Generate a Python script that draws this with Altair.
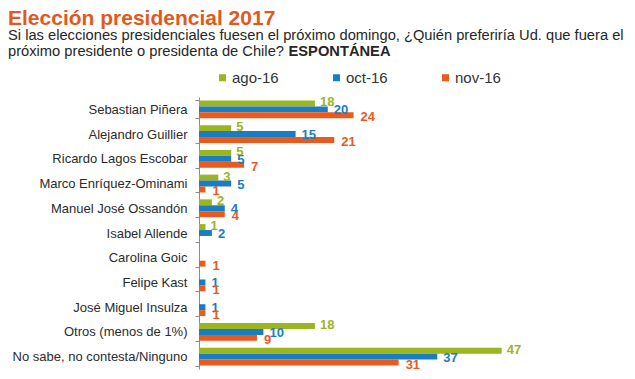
import altair as alt
import pandas as pd

categories = [
    "Sebastian Piñera",
    "Alejandro Guillier",
    "Ricardo Lagos Escobar",
    "Marco Enríquez-Ominami",
    "Manuel José Ossandón",
    "Isabel Allende",
    "Carolina Goic",
    "Felipe Kast",
    "José Miguel Insulza",
    "Otros (menos de 1%)",
    "No sabe, no contesta/Ninguno",
]
series = ["ago-16", "oct-16", "nov-16"]
ago16 = [18, 5, 5, 3, 2, 1, None, None, None, 18, 47]
oct16 = [20, 15, 5, 5, 4, 2, None, 1, 1, 10, 37]
nov16 = [24, 21, 7, 1, 4, None, 1, 1, 1, 9, 31]
colors = ["#9BB51E", "#197DC3", "#E85A1E"]

title_text = "Elección presidencial 2017"
sub1 = "Si las elecciones presidenciales fuesen el próximo domingo, ¿Quién preferiría Ud. que fuera el"
sub2 = "próximo presidente o presidenta de Chile?"
sub2_bold = "ESPONTÁNEA"

FONT = "Liberation Sans"

rows = []
for i, c in enumerate(categories):
    for s, vals in zip(series, [ago16, oct16, nov16]):
        v = vals[i]
        if v is not None:
            rows.append({"cat": c, "series": s, "value": v})
df = pd.DataFrame(rows)

y_enc = alt.Y(
    "cat:N",
    sort=categories,
    scale=alt.Scale(paddingInner=0.28, paddingOuter=0.14),
    axis=alt.Axis(
        title=None,
        labelFont=FONT,
        labelFontSize=13,
        labelColor="#2b2b2b",
        labelPadding=8,
        labelLimit=400,
        tickBand="extent",
        tickSize=4,
        tickColor="#8c8c8c",
        domainColor="#8c8c8c",
        grid=False,
    ),
)
yoff_enc = alt.YOffset("series:N", sort=series, scale=alt.Scale(paddingInner=0, paddingOuter=0))
x_enc = alt.X("value:Q", scale=alt.Scale(domain=[0, 50]), axis=None)

base = alt.Chart(df)

bars = base.mark_bar().encode(
    y=y_enc,
    yOffset=yoff_enc,
    x=x_enc,
    color=alt.Color(
        "series:N",
        scale=alt.Scale(domain=series, range=colors),
        sort=series,
        legend=alt.Legend(
            title=None,
            orient="none",
            direction="horizontal",
            legendX=16,
            legendY=-27,
            symbolType="square",
            symbolSize=49,
            symbolStrokeWidth=0,
            labelFont=FONT,
            labelFontSize=15,
            labelColor="#333333",
            labelOffset=2,
            columnPadding=50,
            padding=0,
        ),
    ),
)

offsets = {"ago-16": (5, -1), "oct-16": (6, 1), "nov-16": (7, 2)}
label_layers = []
for s, col in zip(series, colors):
    dx, dy = offsets[s]
    label_layers.append(
        base.transform_filter(alt.datum.series == s)
        .mark_text(align="left", baseline="middle", dx=dx, dy=dy,
                   font=FONT, fontSize=13, fontWeight="bold", color=col)
        .encode(y=y_enc, yOffset=yoff_enc, x=x_enc, text="value:Q")
    )

def header(txt, x, y, size, weight, color):
    return alt.Chart(pd.DataFrame({"t": [txt]})).mark_text(
        align="left", baseline="alphabetic", font=FONT, fontSize=size,
        fontWeight=weight, color=color
    ).encode(x=alt.value(x), y=alt.value(y), text="t:N")

h1 = header(title_text, -191, -72, 21, "bold", "#E05A1E")
h2 = header(sub1, -191, -57, 14.7, "normal", "#262626")
h3 = header(sub2, -191, -41, 14.7, "normal", "#262626")
h4 = header(sub2_bold, 89.5, -41, 14.7, "bold", "#262626")

chart = alt.layer(bars, *label_layers, h1, h2, h3, h4).properties(
    width=322,
    height=272,
    autosize=alt.AutoSizeParams(type="none"),
    padding={"left": 191, "top": 89, "right": 106, "bottom": 2},
    background="white",
).configure_view(stroke=None)

chart.save("out.html", embed_options={"renderer": "svg", "actions": False})
